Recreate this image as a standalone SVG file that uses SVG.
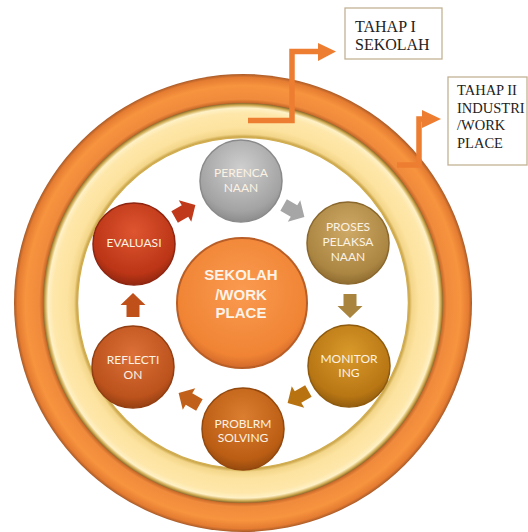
<svg xmlns="http://www.w3.org/2000/svg" width="528" height="532" viewBox="0 0 528 532">
<defs>
<radialGradient id="gOrange" gradientUnits="userSpaceOnUse" cx="243" cy="303" r="229">
<stop offset="0.875" stop-color="#c86a2a"/>
<stop offset="0.89" stop-color="#f08a3c"/>
<stop offset="0.95" stop-color="#f7943f"/>
<stop offset="0.985" stop-color="#e57c31"/>
<stop offset="1" stop-color="#a85a28"/>
</radialGradient>
<radialGradient id="gCream" gradientUnits="userSpaceOnUse" cx="243" cy="303" r="200">
<stop offset="0.83" stop-color="#c9a447"/>
<stop offset="0.845" stop-color="#f3d68a"/>
<stop offset="0.88" stop-color="#fde3a0"/>
<stop offset="0.95" stop-color="#fee7aa"/>
<stop offset="0.975" stop-color="#fff1c6"/>
<stop offset="0.99" stop-color="#c9a54c"/>
<stop offset="1" stop-color="#8a6a2e"/>
</radialGradient>
<radialGradient id="gGray" cx="50%" cy="35%" r="65%"><stop offset="0" stop-color="#cfcfcf"/><stop offset="0.8" stop-color="#a3a3a3"/><stop offset="1" stop-color="#8c8c8c"/></radialGradient>
<radialGradient id="gTan" cx="50%" cy="35%" r="65%"><stop offset="0" stop-color="#cfaa66"/><stop offset="0.8" stop-color="#ab8643"/><stop offset="1" stop-color="#8f6c30"/></radialGradient>
<radialGradient id="gGold" cx="50%" cy="35%" r="65%"><stop offset="0" stop-color="#d99a2a"/><stop offset="0.8" stop-color="#b87614"/><stop offset="1" stop-color="#935d0e"/></radialGradient>
<radialGradient id="gBrown" cx="50%" cy="35%" r="65%"><stop offset="0" stop-color="#dc7e30"/><stop offset="0.8" stop-color="#bb5e14"/><stop offset="1" stop-color="#974a0e"/></radialGradient>
<radialGradient id="gRust" cx="50%" cy="35%" r="65%"><stop offset="0" stop-color="#dc7038"/><stop offset="0.8" stop-color="#bc521c"/><stop offset="1" stop-color="#964012"/></radialGradient>
<radialGradient id="gRed" cx="50%" cy="35%" r="65%"><stop offset="0" stop-color="#de5530"/><stop offset="0.8" stop-color="#bb3516"/><stop offset="1" stop-color="#922710"/></radialGradient>
<radialGradient id="gCenter" cx="50%" cy="40%" r="60%"><stop offset="0" stop-color="#fa9a50"/><stop offset="0.85" stop-color="#f08434"/><stop offset="1" stop-color="#d2692a"/></radialGradient>
<path id="blk" d="M0,-12 L12.5,0 L6.5,0 L6.5,12 L-6.5,12 L-6.5,0 L-12.5,0 Z"/>
<style>
.sat text{font-family:Lato,"Open Sans",sans-serif;font-size:12px;fill:#fbf2e4;text-anchor:middle}
.ctr text{font-family:"Liberation Sans",Arial,sans-serif;font-weight:bold;font-size:15px;fill:#fdf3e8;text-anchor:middle}
.box rect{fill:#ffffff;stroke:#c2b294;stroke-width:1.3}
.box text{font-family:"Liberation Serif","Times New Roman",serif;fill:#222222}
.rim{stroke-width:1.5}
.elbow{fill:none;stroke:#ed7d31;stroke-width:5.5}
.head{fill:#ed7d31}
</style>
</defs>
<rect width="528" height="532" fill="#ffffff"/>
<g id="rings">
<circle cx="243" cy="303" r="229" fill="url(#gOrange)"/>
<circle cx="243" cy="303" r="200" fill="url(#gCream)"/>
<circle cx="243" cy="303" r="165.5" fill="#ffffff" stroke="#d2ae52" stroke-width="1.5"/>
</g>
<g id="center">
<circle cx="242" cy="303" r="65" fill="url(#gCenter)" stroke="#b95e26" stroke-width="2"/>
<g class="ctr"><text x="241" y="280">SEKOLAH</text><text x="241" y="300">/WORK</text><text x="241" y="318">PLACE</text></g>
</g>
<g id="perencanaan" class="sat">
<circle cx="241" cy="181" r="41" fill="url(#gGray)" stroke="#8a8a8a" class="rim"/>
<text x="241" y="177">PERENCA</text><text x="241" y="192">NAAN</text>
</g>
<g id="proses" class="sat">
<circle cx="348" cy="243" r="41" fill="url(#gTan)" stroke="#8a672c" class="rim"/>
<text x="348" y="231">PROSES</text><text x="348" y="246">PELAKSA</text><text x="348" y="261">NAAN</text>
</g>
<g id="monitoring" class="sat">
<circle cx="349" cy="366" r="41" fill="url(#gGold)" stroke="#8e5a0e" class="rim"/>
<text x="349" y="362.5">MONITOR</text><text x="349" y="377">ING</text>
</g>
<g id="problrm" class="sat">
<circle cx="243" cy="429" r="41" fill="url(#gBrown)" stroke="#93480e" class="rim"/>
<text x="243" y="427.5">PROBLRM</text><text x="243" y="442">SOLVING</text>
</g>
<g id="reflection" class="sat">
<circle cx="133" cy="367" r="41" fill="url(#gRust)" stroke="#923e12" class="rim"/>
<text x="133" y="364">REFLECTI</text><text x="133" y="378.5">ON</text>
</g>
<g id="evaluasi" class="sat">
<circle cx="134" cy="244" r="41" fill="url(#gRed)" stroke="#8e2510" class="rim"/>
<text x="134" y="247">EVALUASI</text>
</g>
<g id="tahap1" class="box">
<rect x="345" y="8" width="97" height="51"/>
<text x="355" y="32" font-size="16">TAHAP I</text><text x="355" y="50" font-size="16">SEKOLAH</text>
</g>
<g id="tahap2" class="box">
<rect x="448" y="77" width="79" height="88"/>
<text x="457" y="95" font-size="14.5">TAHAP II</text><text x="457" y="112.5" font-size="14.5">INDUSTRI</text><text x="457" y="130" font-size="14.5">/WORK</text><text x="457" y="148" font-size="14.5">PLACE</text>
</g>
<g id="connectors">
<use href="#blk" transform="translate(185,211) rotate(60)" fill="#c0391b"/>
<use href="#blk" transform="translate(294,211) rotate(120)" fill="#a6a6a6"/>
<use href="#blk" transform="translate(350,306) rotate(180)" fill="#a8843e"/>
<use href="#blk" transform="translate(298,397) rotate(240)" fill="#b8720f"/>
<use href="#blk" transform="translate(189,399) rotate(300)" fill="#c0601a"/>
<use href="#blk" transform="translate(133,305)" fill="#c0501a"/>
<path class="elbow" d="M248,120.5 H292 V51.5 H321"/>
<polygon class="head" points="318,43 336,51.5 318,61"/>
<path class="elbow" d="M397,165 H419 V119 H424"/>
<polygon class="head" points="422,110 441,119 422,128"/>
</g>
</svg>
